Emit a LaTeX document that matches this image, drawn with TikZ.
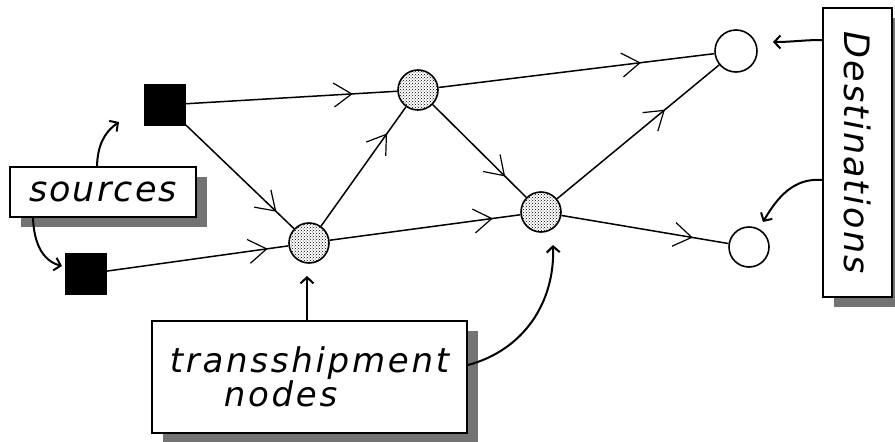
\documentclass[tikz,border=0pt]{standalone}
\usepackage{fontspec}
\setmainfont{DejaVu Sans}
\newfontfamily\lblfont[LetterSpace=6]{DejaVu Sans}
\newfontfamily\trfont[LetterSpace=8]{DejaVu Sans}
\usetikzlibrary{arrows.meta,decorations.markings,patterns,shadows}
\tikzset{
  srcnode/.style={rectangle, fill=black, draw=black, minimum size=41pt, inner sep=0pt},
  tnode/.style={circle, draw=black, line width=1.6pt, minimum size=40pt, inner sep=0pt, fill=white, postaction={pattern=crosshatch dots}},
  dnode/.style={circle, draw=black, line width=1.6pt, fill=white, minimum size=42pt, inner sep=0pt},
  lbox/.style={rectangle, draw=black, line width=2pt, fill=white, inner sep=0pt,
    drop shadow={shadow xshift=11pt, shadow yshift=-10pt, fill=black!55, opacity=1}},
  edge/.style={line width=1.5pt},
  midarrow/.style={postaction={decorate}, decoration={markings,
    mark=at position #1 with {\draw[line width=1.2pt] (-18pt,12pt) -- (0,0) -- (-18pt,-12pt);}}},
  pointer/.style={line width=2pt, -{Straight Barb[length=6pt,width=13pt]}},
}
\begin{document}
\begin{tikzpicture}[x=1pt,y=1pt]
\useasboundingbox (0,0) rectangle (895,-442);
% network nodes
\node[srcnode] (s1) at (165,-105) {};
\node[srcnode] (s2) at (86,-274) {};
\node[tnode] (t1) at (418,-90) {};
\node[tnode] (t2) at (309,-243) {};
\node[tnode] (t3) at (541,-212) {};
\node[dnode] (d1) at (736,-51) {};
\node[dnode, minimum size=40pt] (d2) at (749,-247) {};
% edges
\draw[edge, midarrow=0.785] (s1) -- (t1);
\draw[edge, midarrow=0.73] (t1) -- (d1);
\draw[edge, midarrow=0.83] (s1) -- (t2);
\draw[edge, midarrow=0.88] (s2) -- (t2);
\draw[edge, midarrow=0.77] (t2) -- (t1);
\draw[edge, midarrow=0.77] (t1) -- (t3);
\draw[edge, midarrow=0.85] (t2) -- (t3);
\draw[edge, midarrow=0.66] (t3) -- (d1);
\draw[edge, midarrow=0.78] (t3) -- (d2);
% label boxes
\node[lbox, minimum width=186pt, minimum height=50pt,
      font=\lblfont\fontsize{35}{40}\selectfont\itshape] (src) at (103,-192) {sources};
\node[lbox, minimum width=315pt, minimum height=112pt, align=center,
      font=\trfont\fontsize{34}{34}\selectfont\itshape] (tr) at (309.5,-377)
  {transshipment\\ nodes\hspace*{58pt}};
\node[lbox, minimum width=69pt, minimum height=289pt] (dst) at (857.5,-152.5)
  {\rotatebox{-90}{\lblfont\fontsize{35}{40}\selectfont\itshape Destinations}};
% pointer arrows
\coordinate (p1) at (119,-122);
\coordinate (p2) at (62,-266);
\coordinate (p3) at (307,-276);
\coordinate (p4) at (553,-245);
\coordinate (p5) at (773,-42);
\coordinate (p6) at (763,-222);
\draw[pointer] ([xshift=-6pt]src.north) to[out=88,in=215] (p1);
\draw[pointer] ([xshift=-70pt]src.south) to[out=-88,in=165] (p2);
\draw[pointer] ([xshift=-2.5pt]tr.north) -- (p3);
\draw[pointer] ([yshift=12pt]tr.east) to[out=15,in=-88] (p4);
\draw[pointer] ([yshift=112.5pt]dst.west) to[out=180,in=0] (p5);
\draw[pointer] ([yshift=-27.5pt]dst.west) to[out=175,in=60] (p6);
\end{tikzpicture}
\end{document}
